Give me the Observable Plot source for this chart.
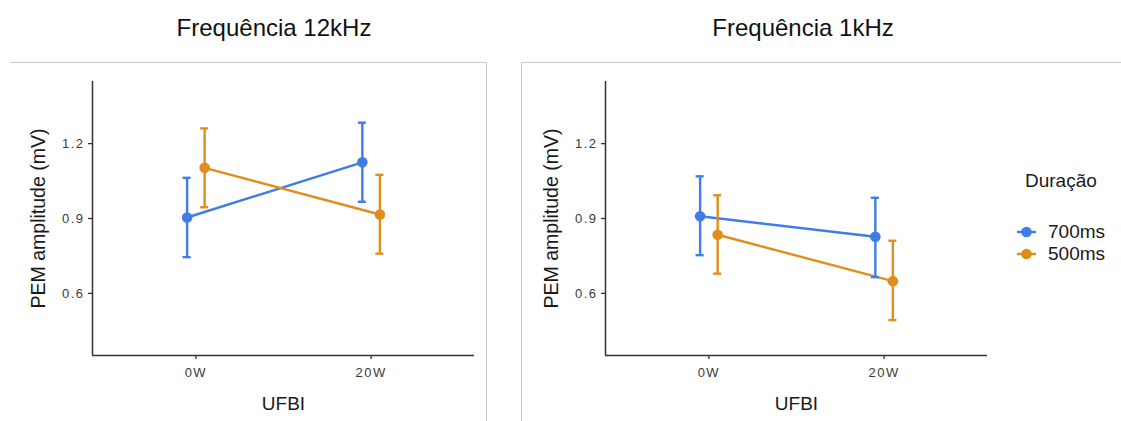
<!DOCTYPE html>
<html>
<head>
<meta charset="utf-8">
<script src="https://cdn.jsdelivr.net/npm/d3@7"></script>
<script src="https://cdn.jsdelivr.net/npm/@observablehq/plot@0.6"></script>
<style>
  html, body { margin: 0; padding: 0; background: #fff; }
  #root { position: relative; width: 1121px; height: 421px; overflow: hidden; font-family: "Liberation Sans", Arial, sans-serif; }
  .title { position: absolute; top: 14px; font-size: 24px; color: #111; transform: translateX(-50%); white-space: nowrap; }
  .box { position: absolute; top: 62px; height: 360px; box-sizing: border-box; }
  #p1box { left: 10px; width: 477px; border-top: 1.5px solid #c9c9c9; border-right: 1.5px solid #c9c9c9; }
  #p2box { left: 521px; width: 601px; border-top: 1.5px solid #c9c9c9; border-left: 1.5px solid #c9c9c9; }
  .panel { position: absolute; top: 63px; }
  .panel svg [aria-label$="tick label"] { letter-spacing: 1.5px; }
  #legend { position: absolute; left: 1017px; top: 170px; color: #1a1a1a; font-size: 19px; }
  #legend .lt { margin-left: 8px; margin-bottom: 29px; }
  #legend .li { display: flex; align-items: center; height: 22px; }
  #legend .li svg { margin-right: 12px; }
</style>
</head>
<body>
<div id="root">
  <div class="box" id="p1box"></div>
  <div class="box" id="p2box"></div>
  <div class="title" style="left:274px">Frequência 12kHz</div>
  <div class="title" style="left:803px">Frequência 1kHz</div>
  <div class="panel" id="p1" style="left:10px"></div>
  <div class="panel" id="p2" style="left:522px"></div>
  <div id="legend"></div>
</div>
<script>
// ---- data ----
const ufbi = ["0W", "20W"];
const duracao = ["700ms", "500ms"];
const colors = ["#3f7ce6", "#e08e1b"];
const yTicks = [0.6, 0.9, 1.2];

// Frequência 12kHz
const f12k_700_mean = [0.904, 1.125];
const f12k_700_lo   = [0.745, 0.967];
const f12k_700_hi   = [1.063, 1.284];
const f12k_500_mean = [1.103, 0.916];
const f12k_500_lo   = [0.945, 0.759];
const f12k_500_hi   = [1.261, 1.075];

// Frequência 1kHz
const f1k_700_mean = [0.909, 0.827];
const f1k_700_lo   = [0.753, 0.665];
const f1k_700_hi   = [1.069, 0.983];
const f1k_500_mean = [0.835, 0.649];
const f1k_500_lo   = [0.679, 0.493];
const f1k_500_hi   = [0.993, 0.811];

// ---- build tables ----
const dodge = 0.05, cap = 0.023;
function table(series) {
  const rows = [];
  series.forEach(([name, mean, lo, hi], si) => {
    ufbi.forEach((g, gi) => {
      const x = gi + (si === 0 ? -dodge : dodge);
      rows.push({serie: name, grupo: g, x, mean: mean[gi], lo: lo[gi], hi: hi[gi], x1: x - cap, x2: x + cap});
    });
  });
  return rows;
}
const d12k = table([["700ms", f12k_700_mean, f12k_700_lo, f12k_700_hi], ["500ms", f12k_500_mean, f12k_500_lo, f12k_500_hi]]);
const d1k  = table([["700ms", f1k_700_mean, f1k_700_lo, f1k_700_hi], ["500ms", f1k_500_mean, f1k_500_lo, f1k_500_hi]]);

const xDomain = [-0.59, 1.59];
const yDomain = [0.351, 1.449];

function panel(data, width, marginLeft, marginRight) {
  return Plot.plot({
    width, height: 358,
    marginLeft, marginRight, marginTop: 18, marginBottom: 66,
    style: { fontFamily: "Liberation Sans, Arial, sans-serif", fontSize: "13px", color: "#3a3a3a", background: "transparent", overflow: "visible" },
    x: { domain: xDomain },
    y: { domain: yDomain },
    color: { domain: duracao, range: colors },
    marks: [
      Plot.axisX([0, 1], { tickFormat: i => ufbi[i], tickSize: 4, tickPadding: 8, label: null, stroke: "#333", strokeWidth: 1.3, fill: "#3a3a3a", fontSize: 13 }),
      Plot.axisY(yTicks, { tickFormat: d3.format(".1f"), tickSize: 4, tickPadding: 4, label: null, stroke: "#333", strokeWidth: 1.3, fill: "#3a3a3a", fontSize: 13 }),
      Plot.ruleX([xDomain[0]], { stroke: "#333", strokeWidth: 1.5 }),
      Plot.ruleY([yDomain[0]], { stroke: "#333", strokeWidth: 1.5 }),
      Plot.line(data, { x: "x", y: "mean", z: "serie", stroke: "serie", strokeWidth: 2.4 }),
      Plot.ruleX(data, { x: "x", y1: "lo", y2: "hi", stroke: "serie", strokeWidth: 2.4 }),
      Plot.ruleY(data, { y: "lo", x1: "x1", x2: "x2", stroke: "serie", strokeWidth: 2.4 }),
      Plot.ruleY(data, { y: "hi", x1: "x1", x2: "x2", stroke: "serie", strokeWidth: 2.4 }),
      Plot.dot(data, { x: "x", y: "mean", fill: "serie", r: 5.3 }),
      Plot.text(["PEM amplitude (mV)"], { text: d => d, frameAnchor: "left", textAnchor: "middle", lineAnchor: "middle", dx: -54, rotate: -90, fontSize: 19.5, fill: "#1a1a1a" }),
      Plot.text(["UFBI"], { text: d => d, frameAnchor: "bottom", lineAnchor: "middle", dy: 48, fontSize: 19, fill: "#1a1a1a" })
    ]
  });
}

document.getElementById("p1").appendChild(panel(d12k, 476, 82, 12));
document.getElementById("p2").appendChild(panel(d1k, 599, 83, 134));

// legend
const lg = document.getElementById("legend");
const t = document.createElement("div");
t.className = "lt"; t.textContent = "Duração";
lg.appendChild(t);
duracao.forEach((name, i) => {
  const row = document.createElement("div");
  row.className = "li";
  row.innerHTML = `<svg width="19" height="12"><line x1="0" x2="19" y1="6" y2="6" stroke="${colors[i]}" stroke-width="2.4"/><circle cx="9.5" cy="6" r="5.3" fill="${colors[i]}"/></svg><span>${name}</span>`;
  lg.appendChild(row);
});
</script>
</body>
</html>
